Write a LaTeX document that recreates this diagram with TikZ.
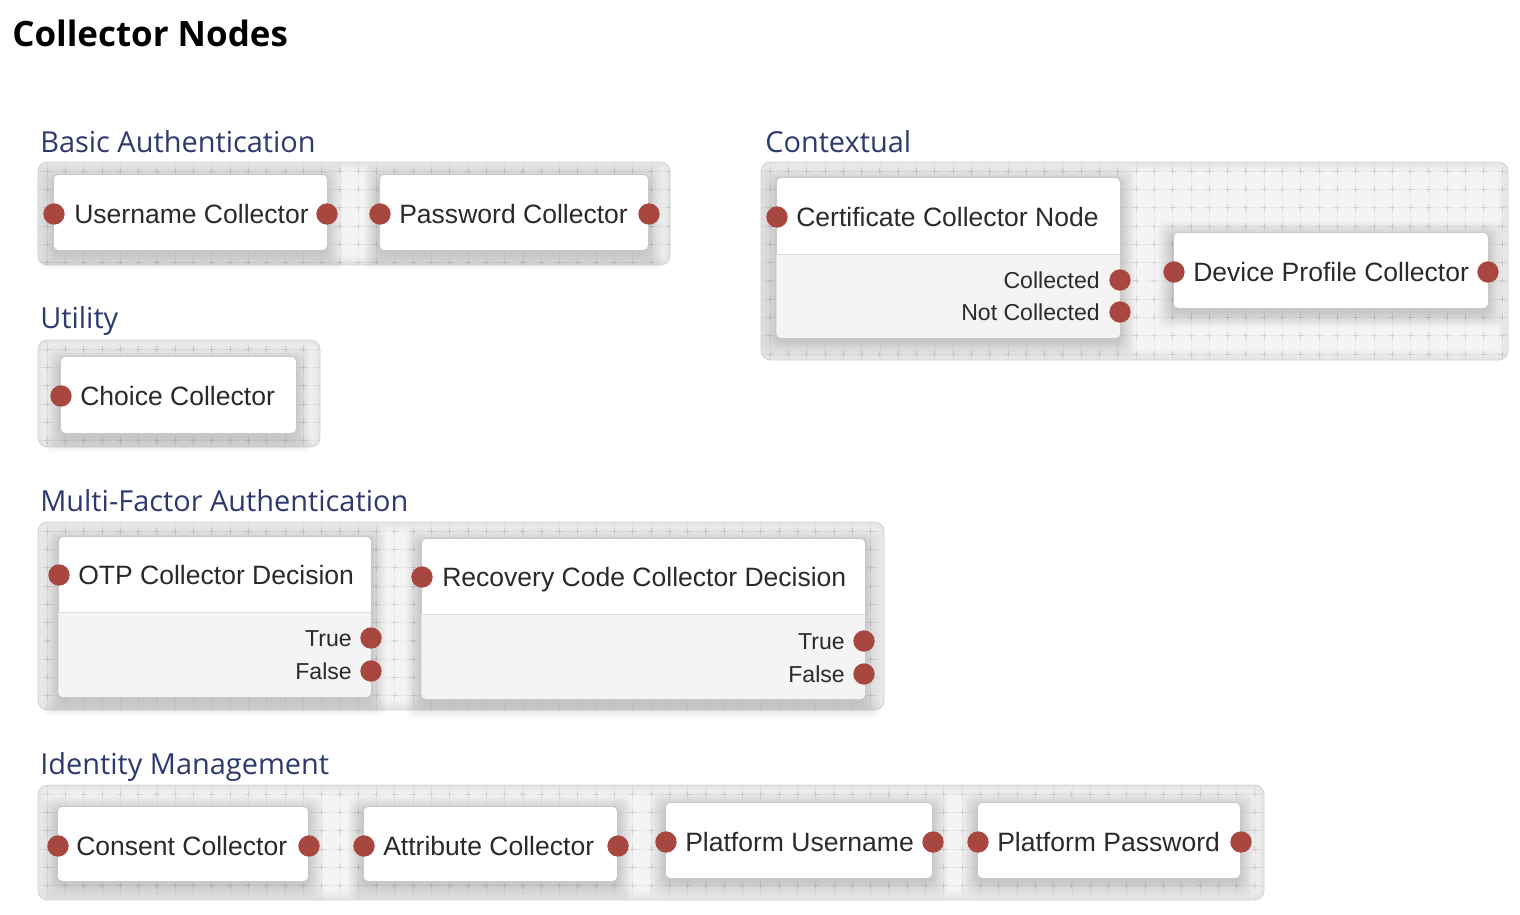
\documentclass[tikz,border=0pt]{standalone}
\usepackage{fontspec}
\setmainfont{Liberation Sans}
\newfontfamily\osans{Open Sans}
\newfontfamily\osansb{Open Sans Bold}

\definecolor{dotred}{RGB}{168,70,64}
\definecolor{txt}{RGB}{42,42,42}
\definecolor{grpblue}{RGB}{44,58,110}
\definecolor{boxline}{RGB}{200,200,200}
\definecolor{lowfill}{RGB}{244,244,244}
\definecolor{divline}{RGB}{222,222,222}
\definecolor{panelfill}{RGB}{244,244,244}
\definecolor{gridc}{RGB}{234,234,234}
\definecolor{crossc}{RGB}{212,212,212}
\definecolor{panelline}{RGB}{212,212,212}

\tikzset{
  nodebox/.style={draw=boxline, fill=white, rounded corners=3.5pt, line width=0.6pt, inner sep=0pt, anchor=north west},
  shadowlayer/.style={fill=black, opacity=0.02, rounded corners=6pt},
  dot/.style={circle, fill=dotred, inner sep=0pt, minimum size=16pt},
  lbl/.style={font=\fontsize{19.9}{22}\selectfont, text=txt, inner sep=0pt, anchor=base west},
  portlbl/.style={font=\fontsize{17.3}{20}\selectfont, text=txt, inner sep=0pt, anchor=base east},
  grp/.style={font=\osans\fontsize{21.7}{25}\selectfont, text=grpblue, inner sep=0pt, anchor=base west},
  gridline/.style={draw=gridc, line width=0.4pt},
  crossline/.style={draw=crossc, line width=0.5pt},
  edgeshade/.style={draw=black, opacity=0.012, rounded corners=7pt},
}

% x1 y1 x2 y2 nx ny
\newcommand\gpanel[6]{%
  \fill[panelfill, rounded corners=7pt] (#1,#2) rectangle (#3,#4);
  \begin{scope}
    \clip[rounded corners=7pt] (#1,#2) rectangle (#3,#4);
    \path[gridline] foreach \i in {0,...,#5} { ({#1+9+\i*18.3},#2) -- ({#1+9+\i*18.3},#4) };
    \path[gridline] foreach \j in {0,...,#6} { (#1,{#2+9+\j*18.3}) -- (#3,{#2+9+\j*18.3}) };
    \path[crossline] foreach \i in {0,...,#5} { foreach \j in {0,...,#6} {
       ({#1+9+\i*18.3},{#2+9+\j*18.3}) +(-3,0) -- +(3,0) +(0,-3) -- +(0,3) } };
    \foreach \w in {3,6,9,12,15} {
      \draw[edgeshade, line width=\w pt] (#1,#2) rectangle (#3,#4);
    }
  \end{scope}
  \draw[panelline, line width=0.6pt, rounded corners=7pt] (#1,#2) rectangle (#3,#4);
}

% soft shadow: x1 y1 x2 y2
\newcommand\softshadow[4]{%
  \foreach \k in {1,...,9} {
    \fill[shadowlayer] ({#1-\k*1.8+1},{#2-\k*1.8+6}) rectangle ({#3+\k*1.8-1},{#4+\k*1.8+3});
  }
}

% name x1 y1 x2 y2 divider
\newcommand\decbox[6]{%
  \softshadow{#2}{#3}{#4}{#5}
  \node[nodebox, minimum width={(#4-#2)*0.75pt}, minimum height={(#5-#3)*0.75pt}] (#1) at (#2,#3) {};
  \begin{scope}
    \clip[rounded corners=3.5pt] (#2,#3) rectangle (#4,#5);
    \fill[lowfill] (#2,#6) rectangle (#4,#5);
  \end{scope}
  \draw[divline, line width=0.6pt] (#2,#6) -- (#4,#6);
  \draw[boxline, line width=0.6pt, rounded corners=3.5pt] (#1.north west) rectangle (#1.south east);
}

% name x1 y1 x2 y2
\newcommand\plainbox[5]{%
  \softshadow{#2}{#3}{#4}{#5}
  \node[nodebox, minimum width={(#4-#2)*0.75pt}, minimum height={(#5-#3)*0.75pt}] (#1) at (#2,#3) {};
}

\begin{document}
\begin{tikzpicture}[x=0.75pt, y=-0.75pt]
\useasboundingbox[fill=white] (0,0) rectangle (1520,914);

\node[anchor=base west, inner sep=0pt, font=\osansb\fontsize{26.2}{30}\selectfont, text=black] (title) at (12,46) {Collector Nodes};

% ---------- Basic Authentication ----------
\node[grp] (gbasic) at (40,152) {Basic Authentication};
\gpanel{38}{162}{670}{265}{35}{6}
\plainbox{un}{53}{174}{327}{250}
\node[dot] (un-in) at (54,214) {};
\node[dot] (un-out) at (327,214) {};
\node[lbl] (un-t) at (74,223) {Username Collector};
\plainbox{pw}{379}{174}{648}{250}
\node[dot] (pw-in) at (380,214) {};
\node[dot] (pw-out) at (649,214) {};
\node[lbl] (pw-t) at (399,223) {Password Collector};

% ---------- Utility ----------
\node[grp] (gutil) at (40,328) {Utility};
\gpanel{38}{340}{320}{447}{16}{6}
\plainbox{ch}{60}{356}{296}{433}
\node[dot] (ch-in) at (61,396) {};
\node[lbl] (ch-t) at (80,405) {Choice Collector};

% ---------- Contextual ----------
\node[grp] (gctx) at (765,152) {Contextual};
\gpanel{761}{162}{1508}{360}{41}{11}
\decbox{cert}{776}{177}{1120}{338}{254}
\node[dot] (cert-in) at (777,217) {};
\node[lbl] (cert-t) at (796,226) {Certificate Collector Node};
\node[dot] (cert-c) at (1120,280) {};
\node[portlbl] (cert-ct) at (1100,288) {Collected};
\node[dot] (cert-nc) at (1120,312) {};
\node[portlbl] (cert-nct) at (1100,320) {Not Collected};
\plainbox{dev}{1173}{232}{1488}{308}
\node[dot] (dev-in) at (1174,272) {};
\node[dot] (dev-out) at (1488,272) {};
\node[lbl] (dev-t) at (1193,281) {Device Profile Collector};

% ---------- Multi-Factor Authentication ----------
\node[grp] (gmfa) at (40,511) {Multi-Factor Authentication};
\gpanel{38}{522}{884}{710}{47}{11}
\decbox{otp}{58}{536}{371}{697}{612}
\node[dot] (otp-in) at (59,575) {};
\node[lbl] (otp-t) at (78,584) {OTP Collector Decision};
\node[dot] (otp-tr) at (371,638) {};
\node[portlbl] (otp-trt) at (352,646) {True};
\node[dot] (otp-fa) at (371,671) {};
\node[portlbl] (otp-fat) at (352,679) {False};
\decbox{rec}{421}{538}{865}{699}{614}
\node[dot] (rec-in) at (422,577) {};
\node[lbl] (rec-t) at (442,586) {Recovery Code Collector Decision};
\node[dot] (rec-tr) at (864,641) {};
\node[portlbl] (rec-trt) at (845,649) {True};
\node[dot] (rec-fa) at (864,674) {};
\node[portlbl] (rec-fat) at (845,682) {False};

% ---------- Identity Management ----------
\node[grp] (gid) at (40,774) {Identity Management};
\gpanel{38}{785}{1264}{900}{67}{7}
\plainbox{con}{57}{806}{308}{881}
\node[dot] (con-in) at (58,846) {};
\node[dot] (con-out) at (309,846) {};
\node[lbl] (con-t) at (76,855) {Consent Collector};
\plainbox{att}{363}{806}{617}{881}
\node[dot] (att-in) at (364,846) {};
\node[dot] (att-out) at (618,846) {};
\node[lbl] (att-t) at (383,855) {Attribute Collector};
\plainbox{pu}{665}{802}{932}{878}
\node[dot] (pu-in) at (666,842) {};
\node[dot] (pu-out) at (933,842) {};
\node[lbl] (pu-t) at (685,851) {Platform Username};
\plainbox{pp}{977}{802}{1240}{878}
\node[dot] (pp-in) at (978,842) {};
\node[dot] (pp-out) at (1241,842) {};
\node[lbl] (pp-t) at (997,851) {Platform Password};
\end{tikzpicture}
\end{document}
